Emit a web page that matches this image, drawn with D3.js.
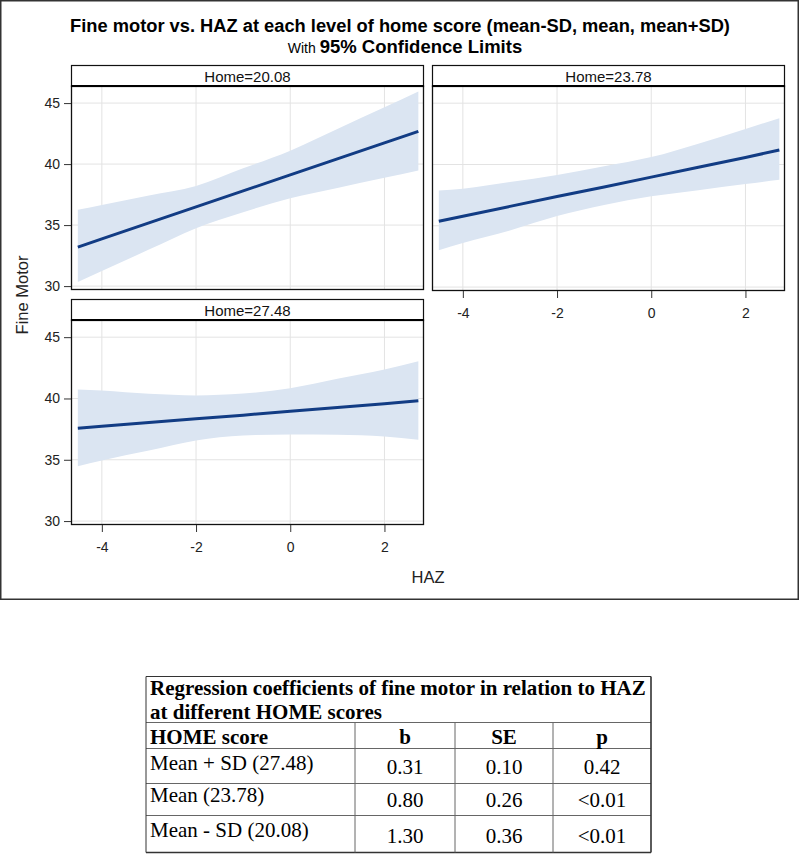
<!DOCTYPE html>
<html><head><meta charset="utf-8">
<script src="https://cdn.jsdelivr.net/npm/d3@7"></script>
<style>body{margin:0;background:#fff}svg{display:block}</style>
</head><body>
<svg id="c" width="800" height="854"></svg>
<script>
// ---------- data ----------
const haz = [-4.51, -4, -3, -2, -1, 0, 1, 2, 2.72];
const panelLabels = ["Home=20.08", "Home=23.78", "Home=27.48"];
const fit20 = [33.2, 33.87, 35.18, 36.49, 37.8, 39.12, 40.43, 41.74, 42.68];
const upper20 = [36.25, 36.65, 37.43, 38.2, 39.65, 41.1, 42.88, 44.66, 45.95];
const lower20 = [30.33, 31.23, 32.99, 34.75, 36.05, 37.2, 38.04, 38.88, 39.48];
const fit23 = [35.37, 35.78, 36.58, 37.38, 38.17, 38.97, 39.77, 40.57, 41.18];
const upper23 = [37.88, 38.02, 38.56, 39.15, 39.85, 40.6, 41.7, 42.9, 43.77];
const lower23 = [33.0, 33.6, 34.62, 35.79, 36.7, 37.4, 37.9, 38.4, 38.75];
const fit27 = [37.57, 37.73, 38.04, 38.34, 38.64, 38.95, 39.26, 39.57, 39.82];
const upper27 = [40.73, 40.65, 40.38, 40.25, 40.4, 40.84, 41.6, 42.36, 43.04];
const lower27 = [34.48, 34.95, 35.76, 36.58, 36.98, 37.07, 37.05, 36.9, 36.63];
const xTicks = [-4, -2, 0, 2];
const yTicks = [30, 35, 40, 45];
const tableTitle = ["Regression coefficients of fine motor in relation to HAZ", "at different HOME scores"];
const tableHeader = ["HOME score", "b", "SE", "p"];
const rowLabels = ["Mean + SD (27.48)", "Mean (23.78)", "Mean - SD (20.08)"];
const bVals = ["0.31", "0.80", "1.30"];
const seVals = ["0.10", "0.26", "0.36"];
const pVals = ["0.42", "<0.01", "<0.01"];

// ---------- drawing ----------
const svg = d3.select("#c");
const SANS = "'Liberation Sans', Arial, sans-serif";
const SERIF = "'Liberation Serif', 'Times New Roman', serif";

// outer frame
svg.append("rect").attr("x", 0.75).attr("y", 0.75).attr("width", 797.5).attr("height", 598.5)
  .attr("fill", "#fff").attr("stroke", "#333").attr("stroke-width", 1.5);

// titles
svg.append("text").attr("x", 400).attr("y", 32).attr("text-anchor", "middle")
  .attr("font-family", SANS).attr("font-weight", "bold").attr("font-size", 18.3).attr("fill", "#000")
  .text("Fine motor vs. HAZ at each level of home score (mean-SD, mean, mean+SD)");
const t2 = svg.append("text").attr("x", 405).attr("y", 53).attr("text-anchor", "middle")
  .attr("font-family", SANS).attr("fill", "#000");
t2.append("tspan").attr("font-size", 14).text("With ");
t2.append("tspan").attr("font-size", 18.5).attr("font-weight", "bold").text("95% Confidence Limits");

const panels = [
  {label: panelLabels[0], fit: fit20, up: upper20, lo: lower20, x0: 71, top: 65, yAxis: true, xAxis: false, ph: 204},
  {label: panelLabels[1], fit: fit23, up: upper23, lo: lower23, x0: 432, top: 65, yAxis: false, xAxis: true, ph: 205},
  {label: panelLabels[2], fit: fit27, up: upper27, lo: lower27, x0: 71, top: 299, yAxis: true, xAxis: true, ph: 205}
];
const W = 353, HH = 21;

panels.forEach((p, i) => {
  const py0 = p.top + HH, py1 = py0 + p.ph;
  const x = d3.scaleLinear().domain([-4.655, 2.84]).range([p.x0, p.x0 + W]);
  const y = d3.scaleLinear().domain([29.68, 46.4]).range([py1, py0]);
  const g = svg.append("g");
  const clipId = "clip" + i;
  svg.append("clipPath").attr("id", clipId).append("rect")
    .attr("x", p.x0).attr("y", py0).attr("width", W).attr("height", p.ph);
  const pg = g.append("g").attr("clip-path", `url(#${clipId})`);
  pg.selectAll(".gx").data(xTicks).enter().append("line")
    .attr("x1", d => x(d)).attr("x2", d => x(d)).attr("y1", py0).attr("y2", py1)
    .attr("stroke", "#e3e3e3").attr("stroke-width", 1);
  pg.selectAll(".gy").data(yTicks).enter().append("line")
    .attr("y1", d => y(d)).attr("y2", d => y(d)).attr("x1", p.x0).attr("x2", p.x0 + W)
    .attr("stroke", "#e3e3e3").attr("stroke-width", 1);
  const pts = haz.map((h, k) => ({h, f: p.fit[k], u: p.up[k], l: p.lo[k]}));
  pg.append("path").datum(pts)
    .attr("d", d3.area().curve(d3.curveMonotoneX).x(d => x(d.h)).y0(d => y(d.l)).y1(d => y(d.u)))
    .attr("fill", "#dbe5f2");
  pg.append("path").datum(pts)
    .attr("d", d3.line().x(d => x(d.h)).y(d => y(d.f)))
    .attr("fill", "none").attr("stroke", "#123c84").attr("stroke-width", 3);
  g.append("rect").attr("x", p.x0 + 0.5).attr("y", py0).attr("width", W - 1).attr("height", p.ph - 0.5)
    .attr("fill", "none").attr("stroke", "#111").attr("stroke-width", 1.3);
  g.append("rect").attr("x", p.x0 + 0.5).attr("y", p.top + 0.5).attr("width", W - 1).attr("height", HH)
    .attr("fill", "#fff").attr("stroke", "#111").attr("stroke-width", 1.2);
  g.append("line").attr("x1", p.x0).attr("x2", p.x0 + W).attr("y1", py0).attr("y2", py0)
    .attr("stroke", "#000").attr("stroke-width", 2.2);
  g.append("text").attr("x", p.x0 + W / 2).attr("y", p.top + 16.5).attr("text-anchor", "middle")
    .attr("font-family", SANS).attr("font-size", 15).attr("fill", "#111").text(p.label);
  if (p.yAxis) {
    const ay = g.append("g").attr("transform", `translate(${p.x0},0)`)
      .call(d3.axisLeft(y).tickValues(yTicks).tickSize(7).tickPadding(4));
    ay.select(".domain").remove();
    ay.selectAll("line").attr("stroke", "#333");
    ay.selectAll("text").attr("font-family", SANS).attr("font-size", 14).attr("fill", "#222");
  }
  if (p.xAxis) {
    const ax = g.append("g").attr("transform", `translate(0,${py1})`)
      .call(d3.axisBottom(x).tickValues(xTicks).tickSize(7).tickPadding(10).tickFormat(d => d < 0 ? "-" + Math.abs(d) : d));
    ax.select(".domain").remove();
    ax.selectAll("line").attr("stroke", "#333");
    ax.selectAll("text").attr("font-family", SANS).attr("font-size", 14).attr("fill", "#222");
  }
});

svg.append("text").attr("x", 428).attr("y", 583).attr("text-anchor", "middle")
  .attr("font-family", SANS).attr("font-size", 16.5).attr("fill", "#222").text("HAZ");
svg.append("text").attr("transform", "translate(28,295) rotate(-90)").attr("text-anchor", "middle")
  .attr("font-family", SANS).attr("font-size", 16.5).attr("fill", "#222").text("Fine Motor");

// ---------- table ----------
const tb = svg.append("g");
const tL = 146, tR = 651;
const colX = [tL, 355, 455, 553, tR];
const rowY = [676.5, 722.5, 748.5, 783.5, 815.5, 852.5];
const lineCol = "#666";
const FS = 21;
rowY.forEach((yy, k) => {
  tb.append("line").attr("x1", tL).attr("x2", tR).attr("y1", yy).attr("y2", yy)
    .attr("stroke", k === 0 || k === rowY.length - 1 ? "#333" : lineCol).attr("stroke-width", k === rowY.length - 1 ? 1.6 : 1);
});
[tL, tR].forEach((xx, k) => tb.append("line").attr("x1", xx).attr("x2", xx).attr("y1", rowY[0]).attr("y2", rowY[5])
  .attr("stroke", "#333").attr("stroke-width", k === 1 ? 1.6 : 1));
colX.slice(1, 4).forEach(xx => tb.append("line").attr("x1", xx).attr("x2", xx).attr("y1", rowY[1]).attr("y2", rowY[5])
  .attr("stroke", lineCol).attr("stroke-width", 1));

tableTitle.forEach((t, k) => tb.append("text").attr("x", 150).attr("y", 695 + k * 23.5)
  .attr("font-family", SERIF).attr("font-weight", "bold").attr("font-size", FS).attr("fill", "#000").text(t));
tableHeader.forEach((t, k) => tb.append("text")
  .attr("x", k === 0 ? 150 : (colX[k] + colX[k + 1]) / 2).attr("y", 744)
  .attr("text-anchor", k === 0 ? "start" : "middle")
  .attr("font-family", SERIF).attr("font-weight", "bold").attr("font-size", FS).attr("fill", "#000").text(t));
const labelBase = [770, 802, 837];
const numBase = [774, 807, 843];
rowLabels.forEach((t, r) => {
  tb.append("text").attr("x", 150).attr("y", labelBase[r]).attr("font-family", SERIF).attr("font-size", FS)
    .attr("fill", "#000").text(t);
  [bVals[r], seVals[r], pVals[r]].forEach((v, c) => tb.append("text")
    .attr("x", (colX[c + 1] + colX[c + 2]) / 2).attr("y", numBase[r]).attr("text-anchor", "middle")
    .attr("font-family", SERIF).attr("font-size", FS).attr("fill", "#000").text(v));
});
</script>
</body></html>
